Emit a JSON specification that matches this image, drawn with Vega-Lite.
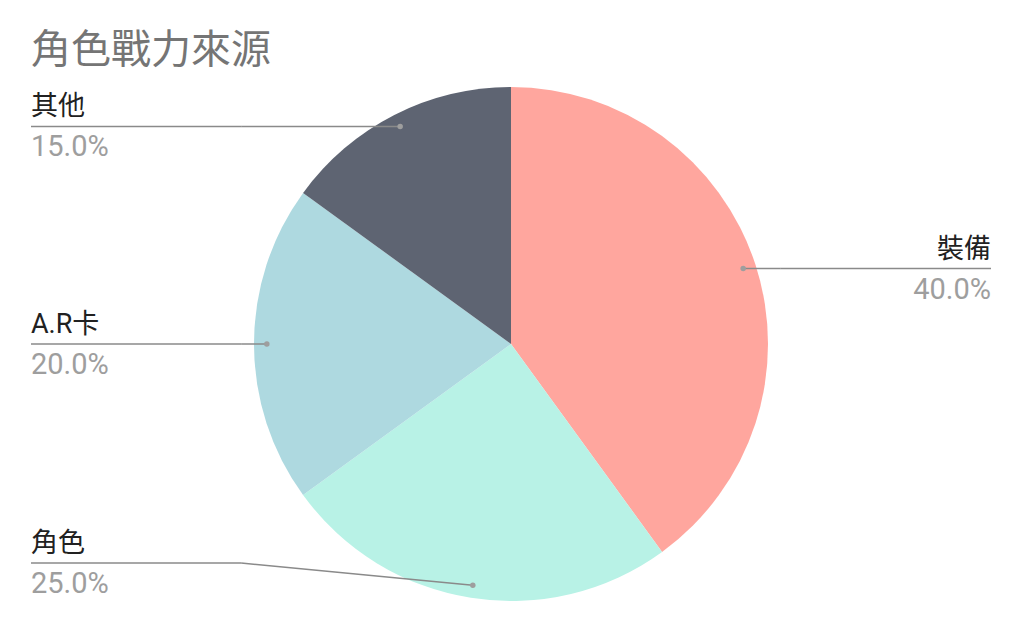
{
  "$schema": "https://vega.github.io/schema/vega-lite/v6.json",
  "width": 960,
  "height": 514,
  "autosize": {"type": "none"},
  "padding": {"left": 31, "top": 87, "right": 33, "bottom": 32},
  "background": "white",
  "title": {
    "text": "角色戰力來源",
    "anchor": "start",
    "frame": "group",
    "font": "Roboto, Noto Sans CJK TC",
    "fontSize": 40,
    "fontWeight": "normal",
    "color": "#757575",
    "baseline": "alphabetic",
    "offset": 22,
    "dy": 38
  },
  "config": {"view": {"stroke": null}},
  "data": {
    "values": [
      {"name": "裝備", "value": 40, "order": 1},
      {"name": "角色", "value": 25, "order": 2},
      {"name": "A.R卡", "value": 20, "order": 3},
      {"name": "其他", "value": 15, "order": 4}
    ]
  },
  "transform": [
    {"joinaggregate": [{"op": "sum", "field": "value", "as": "total"}]},
    {"window": [{"op": "sum", "field": "value", "as": "cum"}], "sort": [{"field": "order"}], "frame": [null, 0]},
    {"calculate": "datum.value / datum.total", "as": "pct"},
    {"calculate": "(datum.cum - datum.value / 2) / datum.total * 2 * PI", "as": "mid"},
    {"calculate": "0.95 * sin(datum.mid)", "as": "dotx"},
    {"calculate": "0.95 * cos(datum.mid)", "as": "doty"},
    {"calculate": "datum.mid > PI ? -1 : 1", "as": "side"},
    {"calculate": "clamp(datum.doty, -0.852, 0.9)", "as": "ly"},
    {"calculate": "datum.side * 1.05", "as": "elbowx"},
    {"calculate": "datum.side * 1.8677", "as": "endx"}
  ],
  "layer": [
    {
      "mark": {"type": "arc", "outerRadius": 257},
      "encoding": {
        "theta": {"field": "value", "type": "quantitative", "stack": true},
        "order": {"field": "order", "type": "quantitative"},
        "color": {
          "field": "name",
          "type": "nominal",
          "scale": {
            "domain": ["裝備", "角色", "A.R卡", "其他"],
            "range": ["#ffa69e", "#b8f2e6", "#aed9e0", "#5e6472"]
          },
          "legend": null
        }
      }
    },
    {
      "mark": {"type": "rule", "color": "#8a8a8a", "strokeWidth": 1.5},
      "encoding": {
        "x": {"field": "dotx", "type": "quantitative", "scale": {"domain": [-1.8677, 1.8677], "nice": false, "zero": false}, "axis": null},
        "y": {"field": "doty", "type": "quantitative", "scale": {"domain": [-1, 1], "nice": false, "zero": false}, "axis": null},
        "x2": {"field": "elbowx"},
        "y2": {"field": "ly"}
      }
    },
    {
      "mark": {"type": "rule", "color": "#8a8a8a", "strokeWidth": 1.5},
      "encoding": {
        "x": {"field": "elbowx", "type": "quantitative"},
        "y": {"field": "ly", "type": "quantitative"},
        "x2": {"field": "endx"}
      }
    },
    {
      "mark": {"type": "circle", "color": "#9e9e9e", "opacity": 1, "size": 30},
      "encoding": {
        "x": {"field": "dotx", "type": "quantitative"},
        "y": {"field": "doty", "type": "quantitative"}
      }
    },
    {
      "transform": [{"filter": "datum.side < 0"}],
      "mark": {"type": "text", "align": "left", "baseline": "alphabetic", "dy": -11, "font": "Roboto, Noto Sans CJK TC", "fontSize": 27, "color": "#212121"},
      "encoding": {
        "x": {"field": "endx", "type": "quantitative"},
        "y": {"field": "ly", "type": "quantitative"},
        "text": {"field": "name"}
      }
    },
    {
      "transform": [{"filter": "datum.side < 0"}],
      "mark": {"type": "text", "align": "left", "baseline": "alphabetic", "dy": 30, "font": "Roboto, Noto Sans CJK TC", "fontSize": 29, "color": "#9e9e9e"},
      "encoding": {
        "x": {"field": "endx", "type": "quantitative"},
        "y": {"field": "ly", "type": "quantitative"},
        "text": {"field": "pct", "format": ".1%"}
      }
    },
    {
      "transform": [{"filter": "datum.side > 0"}],
      "mark": {"type": "text", "align": "right", "baseline": "alphabetic", "dy": -11, "font": "Roboto, Noto Sans CJK TC", "fontSize": 27, "color": "#212121"},
      "encoding": {
        "x": {"field": "endx", "type": "quantitative"},
        "y": {"field": "ly", "type": "quantitative"},
        "text": {"field": "name"}
      }
    },
    {
      "transform": [{"filter": "datum.side > 0"}],
      "mark": {"type": "text", "align": "right", "baseline": "alphabetic", "dy": 30, "font": "Roboto, Noto Sans CJK TC", "fontSize": 29, "color": "#9e9e9e"},
      "encoding": {
        "x": {"field": "endx", "type": "quantitative"},
        "y": {"field": "ly", "type": "quantitative"},
        "text": {"field": "pct", "format": ".1%"}
      }
    }
  ]
}
